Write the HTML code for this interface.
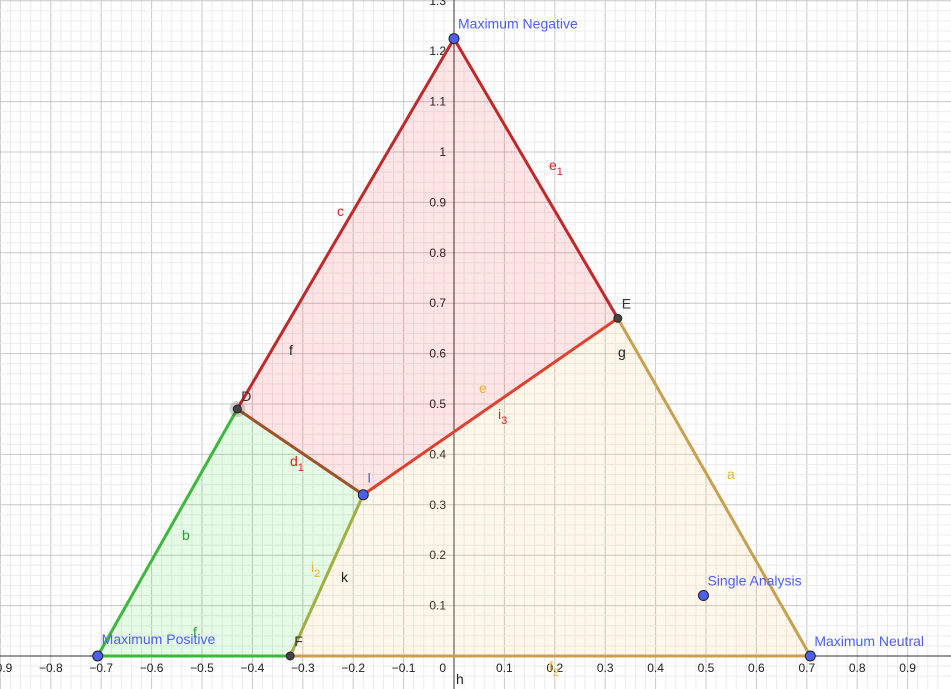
<!DOCTYPE html>
<html><head><meta charset="utf-8"><style>
body{margin:0;background:#fff;font-family:"Liberation Sans",sans-serif;}
svg{display:block}
</style></head><body>
<svg id="chart" width="951" height="689" xmlns="http://www.w3.org/2000/svg"></svg>
<script>
const pointNames=["Maximum Negative","Maximum Positive","Maximum Neutral","D","E","I","F","Single Analysis"];
const pointX=[0,-0.707,0.707,-0.43,0.325,-0.18,-0.325,0.495];
const pointY=[1.225,0,0,0.49,0.67,0.32,0,0.12];
const xTicks=[-0.9,-0.8,-0.7,-0.6,-0.5,-0.4,-0.3,-0.2,-0.1,0.1,0.2,0.3,0.4,0.5,0.6,0.7,0.8,0.9];
const yTicks=[0.1,0.2,0.3,0.4,0.5,0.6,0.7,0.8,0.9,1,1.1,1.2,1.3];
const X=v=>454+v*504, Y=v=>656-v*504;
const svg=document.getElementById('chart');const NS="http://www.w3.org/2000/svg";
function mk(t,a,p){const e=document.createElementNS(NS,t);for(const k in a)e.setAttribute(k,a[k]);(p||svg).appendChild(e);return e;}
const grid=mk('g',{});


for(let i=-46;i<=48;i++){const x=X(i*0.02);mk('line',{x1:x,x2:x,y1:0,y2:689,stroke:i%5==0?'#c8c8c8':'#ececec','stroke-width':1},grid);}
for(let i=-2;i<=66;i++){const y=Y(i*0.02);mk('line',{x1:0,x2:951,y1:y,y2:y,stroke:i%5==0?'#c8c8c8':'#ececec','stroke-width':1},grid);}
const ax=mk('g',{});


mk('line',{x1:0,x2:951,y1:Y(0),y2:Y(0),stroke:'#333'},ax);
mk('line',{x1:X(0),x2:X(0),y1:0,y2:689,stroke:'#333'},ax);
xTicks.forEach(v=>{const t=mk('text',{x:X(v),y:Y(0)+16,'font-size':12,'text-anchor':'middle',fill:'#222'},ax);t.textContent=(v<0?'\u2212'+(-v):v);});
{const t=mk('text',{x:X(0)-8,y:Y(0)+16,'font-size':12,'text-anchor':'end',fill:'#222'},ax);t.textContent='0';}
yTicks.forEach(v=>{const t=mk('text',{x:X(0)-8,y:Y(v)+4,'font-size':12,'text-anchor':'end',fill:'#222'},ax);t.textContent=v;});
const P=i=>X(pointX[i])+','+Y(pointY[i]);
const regions=[[[0,4,5,3],'rgba(255,0,0,0.1)','negative-region'],[[3,5,6,1],'rgba(0,220,0,0.1)','positive-region'],[[4,2,6,5],'rgba(255,200,80,0.12)','neutral-region']];
regions.forEach(r=>{const p=mk('polygon',{points:r[0].map(P).join(' '),fill:r[1]});

});
const segs=[[3,0,'#c0282a','c'],[0,4,'#c0282a','e1'],[4,2,'#c8a050','a'],[6,2,'#c8a050','f2'],[5,4,'#e04030','i3'],[3,5,'#a0502a','d1'],[1,3,'#3cb83c','b'],[1,6,'#3cb83c','f'],[6,5,'#a0b040','i2']];
segs.forEach(s=>{const l=mk('line',{x1:X(pointX[s[0]]),y1:Y(pointY[s[0]]),x2:X(pointX[s[1]]),y2:Y(pointY[s[1]]),stroke:s[2],'stroke-width':3});

});
const labels=[['c',337,216,'#e02020'],['e',549,170,'#e02020','1'],['f',289,355,'#222'],['g',618,357,'#222'],['e',479,393,'#f0b030'],['i',498,419,'#e02020','3'],['a',727,479,'#f0b030'],['d',290,466,'#e02020','1'],['b',182,540,'#22aa22'],['i',311,572,'#f0b030','2'],['k',341,582,'#222'],['f',549,671,'#f0b030','2'],['h',456,684,'#222'],['f',193,637,'#22aa22']];
labels.forEach(l=>{const t=mk('text',{x:l[1],y:l[2],'font-size':14,fill:l[3]});t.textContent=l[0];
if(l[4]){const s=mk('tspan',{dy:5,'font-size':11},t);s.textContent=l[4];}

});
const blue=[0,1,2,5,7];
pointNames.forEach((n,i)=>{const isB=blue.includes(i);const x=X(pointX[i]),y=Y(pointY[i]);
if(i==3)mk('circle',{cx:x,cy:y,r:8,fill:'rgba(0,0,0,0.15)'});
const c=mk('circle',{cx:x,cy:y,r:isB?5:4,fill:isB?'#4d5ff0':'#444',stroke:'#222','stroke-width':1});


const off={0:[4,-10],1:[4,-12],2:[4,-10],3:[4,-8],4:[4,-10],5:[4,-12],6:[4,-10],7:[4,-10]}[i];
const t=mk('text',{x:x+off[0],y:y+off[1],'font-size':14,fill:isB?'#4d5ff0':'#333'});t.textContent=n;

});
</script>
</body></html>
